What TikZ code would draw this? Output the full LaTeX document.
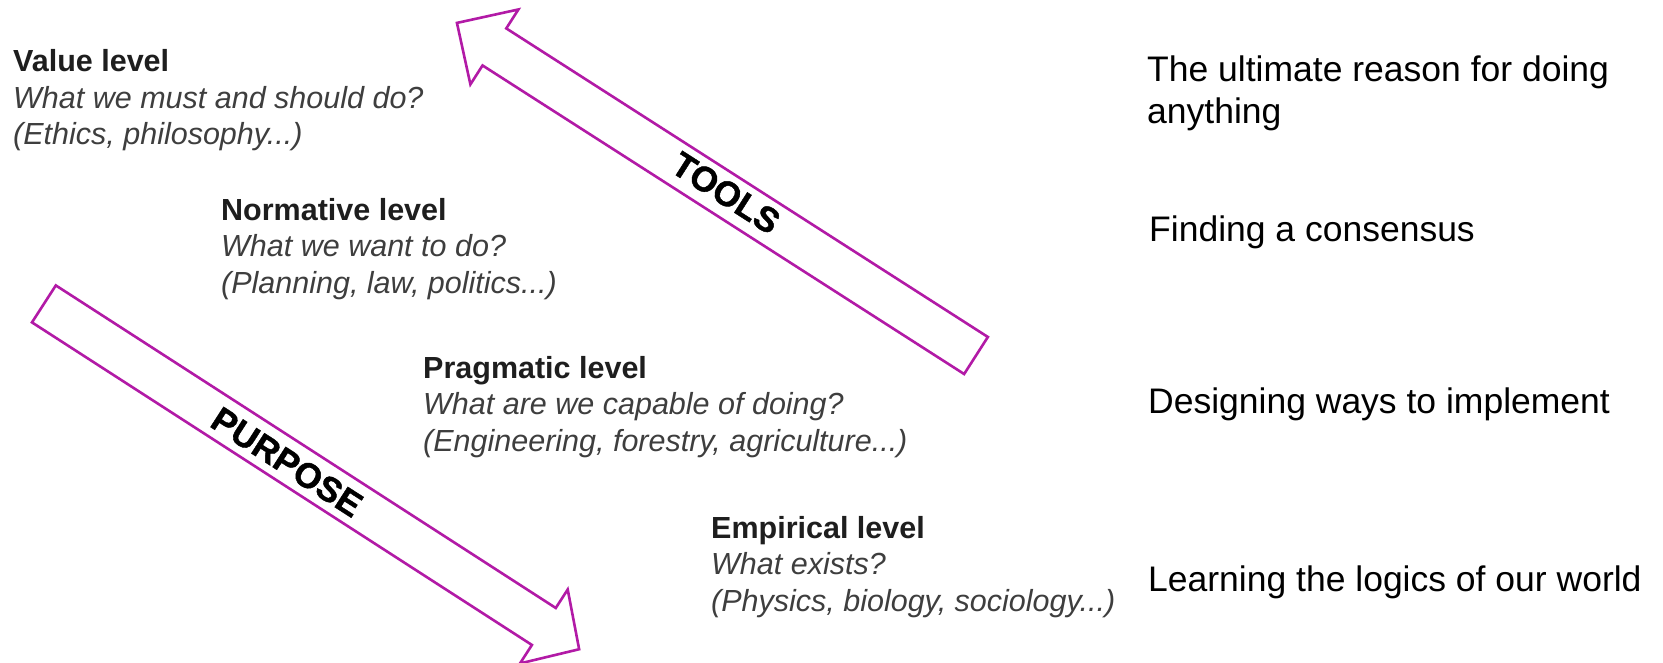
\documentclass[tikz,border=0pt]{standalone}
\usepackage{fontspec}
\setmainfont{Liberation Sans}
\newfontfamily\labelfont[FakeBold=1.2]{Liberation Sans Bold}
\definecolor{arrowmag}{RGB}{178,26,166}
\definecolor{headgray}{RGB}{30,30,30}
\definecolor{subgray}{RGB}{62,62,62}
\begin{document}
\begin{tikzpicture}[x=1pt,y=-1pt,
  levelbox/.style={anchor=base west, inner sep=0pt, font=\fontsize{30.5}{36.5}\selectfont},
  reason/.style={anchor=base west, inner sep=0pt, font=\fontsize{35.5}{41.6}\selectfont},
  blockarrow/.style={draw=arrowmag, line width=2.6pt, fill=white, line join=miter},
  arrowlabel/.style={font=\labelfont\fontsize{35}{35}\selectfont, inner sep=0pt}]
\useasboundingbox[fill=white] (0,0) rectangle (1663,662);

% block arrows
\coordinate (toolsTail) at (976,355.5);
\coordinate (purposeTail) at (43.9,303.9);
\begin{scope}[shift={(toolsTail)}, rotate=147.35]
  \draw[blockarrow] (0,-22) -- (572,-22) -- (572,-44.5) -- (616.5,0) -- (572,44.5) -- (572,22) -- (0,22) -- cycle;
\end{scope}
\begin{scope}[shift={(purposeTail)}, rotate=-32.83]
  \draw[blockarrow] (0,-22) -- (595,-22) -- (595,-44) -- (637,0) -- (595,44) -- (595,22) -- (0,22) -- cycle;
\end{scope}
\node[arrowlabel, rotate=-32.65] (tools) at (726,193) {TOOLS};
\node[arrowlabel, rotate=-32.8] (purpose) at (287,462) {PURPOSE};

% levels
\node[levelbox] (value) at (13,71.7) {\begin{tabular}[t]{@{}l@{}}
  \textcolor{headgray}{\bfseries Value level}\\
  \textcolor{subgray}{\itshape What we must and should do?}\\
  \textcolor{subgray}{\itshape (Ethics, philosophy...)}\end{tabular}};
\node[levelbox] (normative) at (221,220) {\begin{tabular}[t]{@{}l@{}}
  \textcolor{headgray}{\bfseries Normative level}\\
  \textcolor{subgray}{\itshape What we want to do?}\\
  \textcolor{subgray}{\itshape (Planning, law, politics...)}\end{tabular}};
\node[levelbox] (pragmatic) at (423,378.3) {\begin{tabular}[t]{@{}l@{}}
  \textcolor{headgray}{\bfseries Pragmatic level}\\
  \textcolor{subgray}{\itshape What are we capable of doing?}\\
  \textcolor{subgray}{\itshape (Engineering, forestry, agriculture...)}\end{tabular}};
\node[levelbox] (empirical) at (711,538.3) {\begin{tabular}[t]{@{}l@{}}
  \textcolor{headgray}{\bfseries Empirical level}\\
  \textcolor{subgray}{\itshape What exists?}\\
  \textcolor{subgray}{\itshape (Physics, biology, sociology...)}\end{tabular}};

% reasons
\node[reason] (ultimate) at (1147,81.7) {\begin{tabular}[t]{@{}l@{}}The ultimate reason for doing\\anything\end{tabular}};
\node[reason] (consensus) at (1149,241.7) {Finding a consensus};
\node[reason] (designing) at (1148,413) {Designing ways to implement};
\node[reason] (learning) at (1148,591) {Learning the logics of our world};
\end{tikzpicture}
\end{document}
